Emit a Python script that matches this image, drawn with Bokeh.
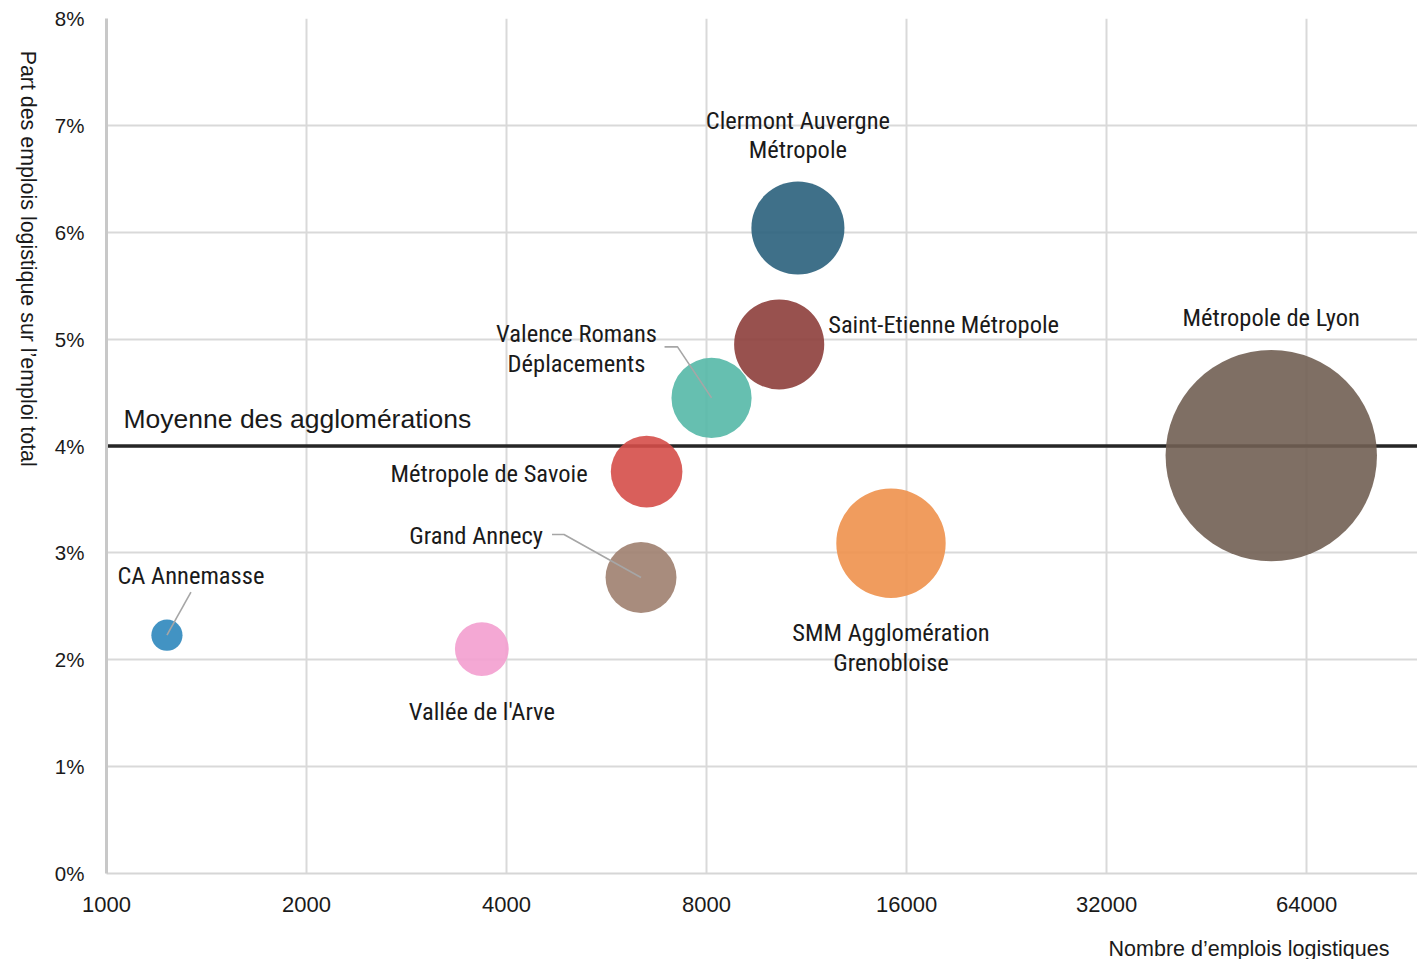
import math
import json
from bokeh.plotting import figure
from bokeh.models import (ColumnDataSource, Range1d, FixedTicker, NumeralTickFormatter,
                          Span, LinearAxis, LogAxis, CustomJSTickFormatter)
from bokeh.core.properties import value
from bokeh.embed import file_html
from bokeh.resources import INLINE

# ---------------- data ----------------
names = ["CA Annemasse", "Vallée de l'Arve", "Grand Annecy", "Métropole de Savoie",
         "Valence Romans\nDéplacements", "Saint-Etienne Métropole",
         "Clermont Auvergne\nMétropole", "SMM Agglomération\nGrenobloise",
         "Métropole de Lyon"]
emplois = [1233, 3672, 6375, 6500, 8140, 10290, 10980, 15160, 56630]
part = [0.0223, 0.0210, 0.0277, 0.0376, 0.0445, 0.0495, 0.0604, 0.0309, 0.0391]
colors = ["#2e87bc", "#f39ecf", "#9e7f6f", "#d54e49", "#55b8a7",
          "#8d3e3b", "#2a607c", "#ee914c", "#715f53"]
moyenne = 0.04
moyenne_label = "Moyenne des agglomérations"
x_ticks = [1000, 2000, 4000, 8000, 16000, 32000, 64000]
y_ticks = [0.0, 0.01, 0.02, 0.03, 0.04, 0.05, 0.06, 0.07, 0.08]
x_title = "Nombre d\u2019emplois logistiques"
y_title = "Part des emplois logistique sur l\u2019emploi total"

# ---------------- layout / style ----------------
W, H = 1417, 959
FW, FH = 1311, 855
XMIN, XMAX = 1000, 94000
YMIN, YMAX = 0.0, 0.08
R_MAX = 105.7  # radius (px) of largest bubble; area proportional to value

LABEL_FONT = "'Liberation Sans Narrow', 'Arial Narrow', 'Roboto Condensed', 'Liberation Sans', sans-serif"
AXIS_FONT = "Liberation Sans, Arial, sans-serif"

label_dx = [24, 0, -98, -59, -135, 49, 0, 0, 0]
label_dy = [-60, 62, -42, 2, -49.5, -20, -93, 104.5, -138]
label_align = ["center", "center", "right", "right", "center", "left",
               "center", "center", "center"]
# leader lines: index -> list of pixel offsets from bubble centre
leaders = {0: [(0, 0), (24, -43)],
           2: [(0, 0), (-77, -43), (-89, -43)],
           4: [(0, 0), (-34, -51), (-47, -51)]}

# axis-title anchor ticks, in pixels from the frame's left / top edge
XT_CENTER_PX = 1142.5
YT_CENTER_PX = 348

PXD = FW / math.log2(XMAX / XMIN)
PXY = FH / (YMAX - YMIN)

vmax = max(emplois)
sizes = [2 * R_MAX * math.sqrt(v / vmax) for v in emplois]

p = figure(width=W, height=H, x_axis_type="log",
           x_range=Range1d(XMIN, XMAX), y_range=Range1d(YMIN, YMAX),
           output_backend="svg", toolbar_location=None,
           min_border_left=106, min_border_right=0, min_border_top=18,
           min_border_bottom=86)
p.frame_width = FW
p.frame_height = FH
p.outline_line_color = None
p.background_fill_color = "white"
p.border_fill_color = "white"

# axes
p.xaxis.ticker = FixedTicker(ticks=x_ticks)
p.xaxis.formatter = NumeralTickFormatter(format="0")
p.yaxis.ticker = FixedTicker(ticks=y_ticks)
p.yaxis.formatter = NumeralTickFormatter(format="0%")
for ax in (p.xaxis[0], p.yaxis[0]):
    ax.major_tick_line_color = None
    ax.minor_tick_line_color = None
    ax.major_tick_out = 0
    ax.major_tick_in = 0
    ax.minor_tick_out = 0
    ax.major_label_text_font = AXIS_FONT
    ax.major_label_text_color = "#1a1a1a"
p.xaxis.major_label_text_font_size = "22px"
p.yaxis.major_label_text_font_size = "20.5px"
p.xaxis.major_label_standoff = 23
p.yaxis.major_label_standoff = 22
p.yaxis.axis_line_color = "#c8c8c8"
p.yaxis.axis_line_width = 3
p.xaxis.axis_line_color = "#d6d6d6"
p.xaxis.axis_line_width = 2

p.xgrid.ticker = FixedTicker(ticks=x_ticks)
p.ygrid.ticker = FixedTicker(ticks=y_ticks)
for g in (p.xgrid[0], p.ygrid[0]):
    g.grid_line_color = "#d9d9d9"
    g.grid_line_width = 2
p.xgrid.minor_grid_line_color = None

# axis titles, drawn as single-tick helper axes
def title_axis(cls, tick, text, orient, size, standoff):
    a = cls(ticker=FixedTicker(ticks=[tick]),
            formatter=CustomJSTickFormatter(code="return " + json.dumps(text) + ";"),
            axis_line_color=None, major_tick_line_color=None,
            minor_tick_line_color=None, major_tick_out=0, major_tick_in=0,
            minor_tick_out=0, major_label_orientation=orient,
            major_label_text_font=AXIS_FONT, major_label_text_font_size=size,
            major_label_text_color="#1a1a1a", major_label_standoff=standoff)
    return a

p.add_layout(title_axis(LinearAxis, YMAX - YT_CENTER_PX / PXY, y_title,
                        -math.pi / 2, "21.4px", 24), "left")
p.add_layout(title_axis(LogAxis, XMIN * 2 ** (XT_CENTER_PX / PXD), x_title,
                        "horizontal", "21.5px", 22), "below")

# average line
p.add_layout(Span(location=moyenne, dimension="width", line_color="#262626",
                  line_width=3.5, level="underlay"))
p.text(x=[XMIN], y=[moyenne], text=[moyenne_label], x_offset=17, y_offset=-27,
       text_font=value(AXIS_FONT), text_font_size="26.5px", text_color="#1a1a1a",
       text_baseline="middle", text_align="left")

# bubbles
src = ColumnDataSource(dict(x=emplois, y=part, size=sizes, color=colors, name=names,
                            dx=label_dx, dy=label_dy, align=label_align))
p.scatter(x="x", y="y", size="size", fill_color="color", fill_alpha=0.9,
          line_color=None, source=src)

# leader lines
lx, ly = [], []
for i, pts in leaders.items():
    lx.append([emplois[i] * 2 ** (dx / PXD) for dx, dy in pts])
    ly.append([part[i] - dy / PXY for dx, dy in pts])
p.multi_line(xs=lx, ys=ly, line_color="#a6a6a6", line_width=1.6)

# bubble labels
p.text(x="x", y="y", text="name", x_offset="dx", y_offset="dy", text_align="align",
       text_baseline="middle", text_font=value(LABEL_FONT), text_font_size="24.5px",
       text_line_height=1.02, text_color="#1a1a1a", source=src)

open("out.html", "w").write(file_html(p, INLINE))
